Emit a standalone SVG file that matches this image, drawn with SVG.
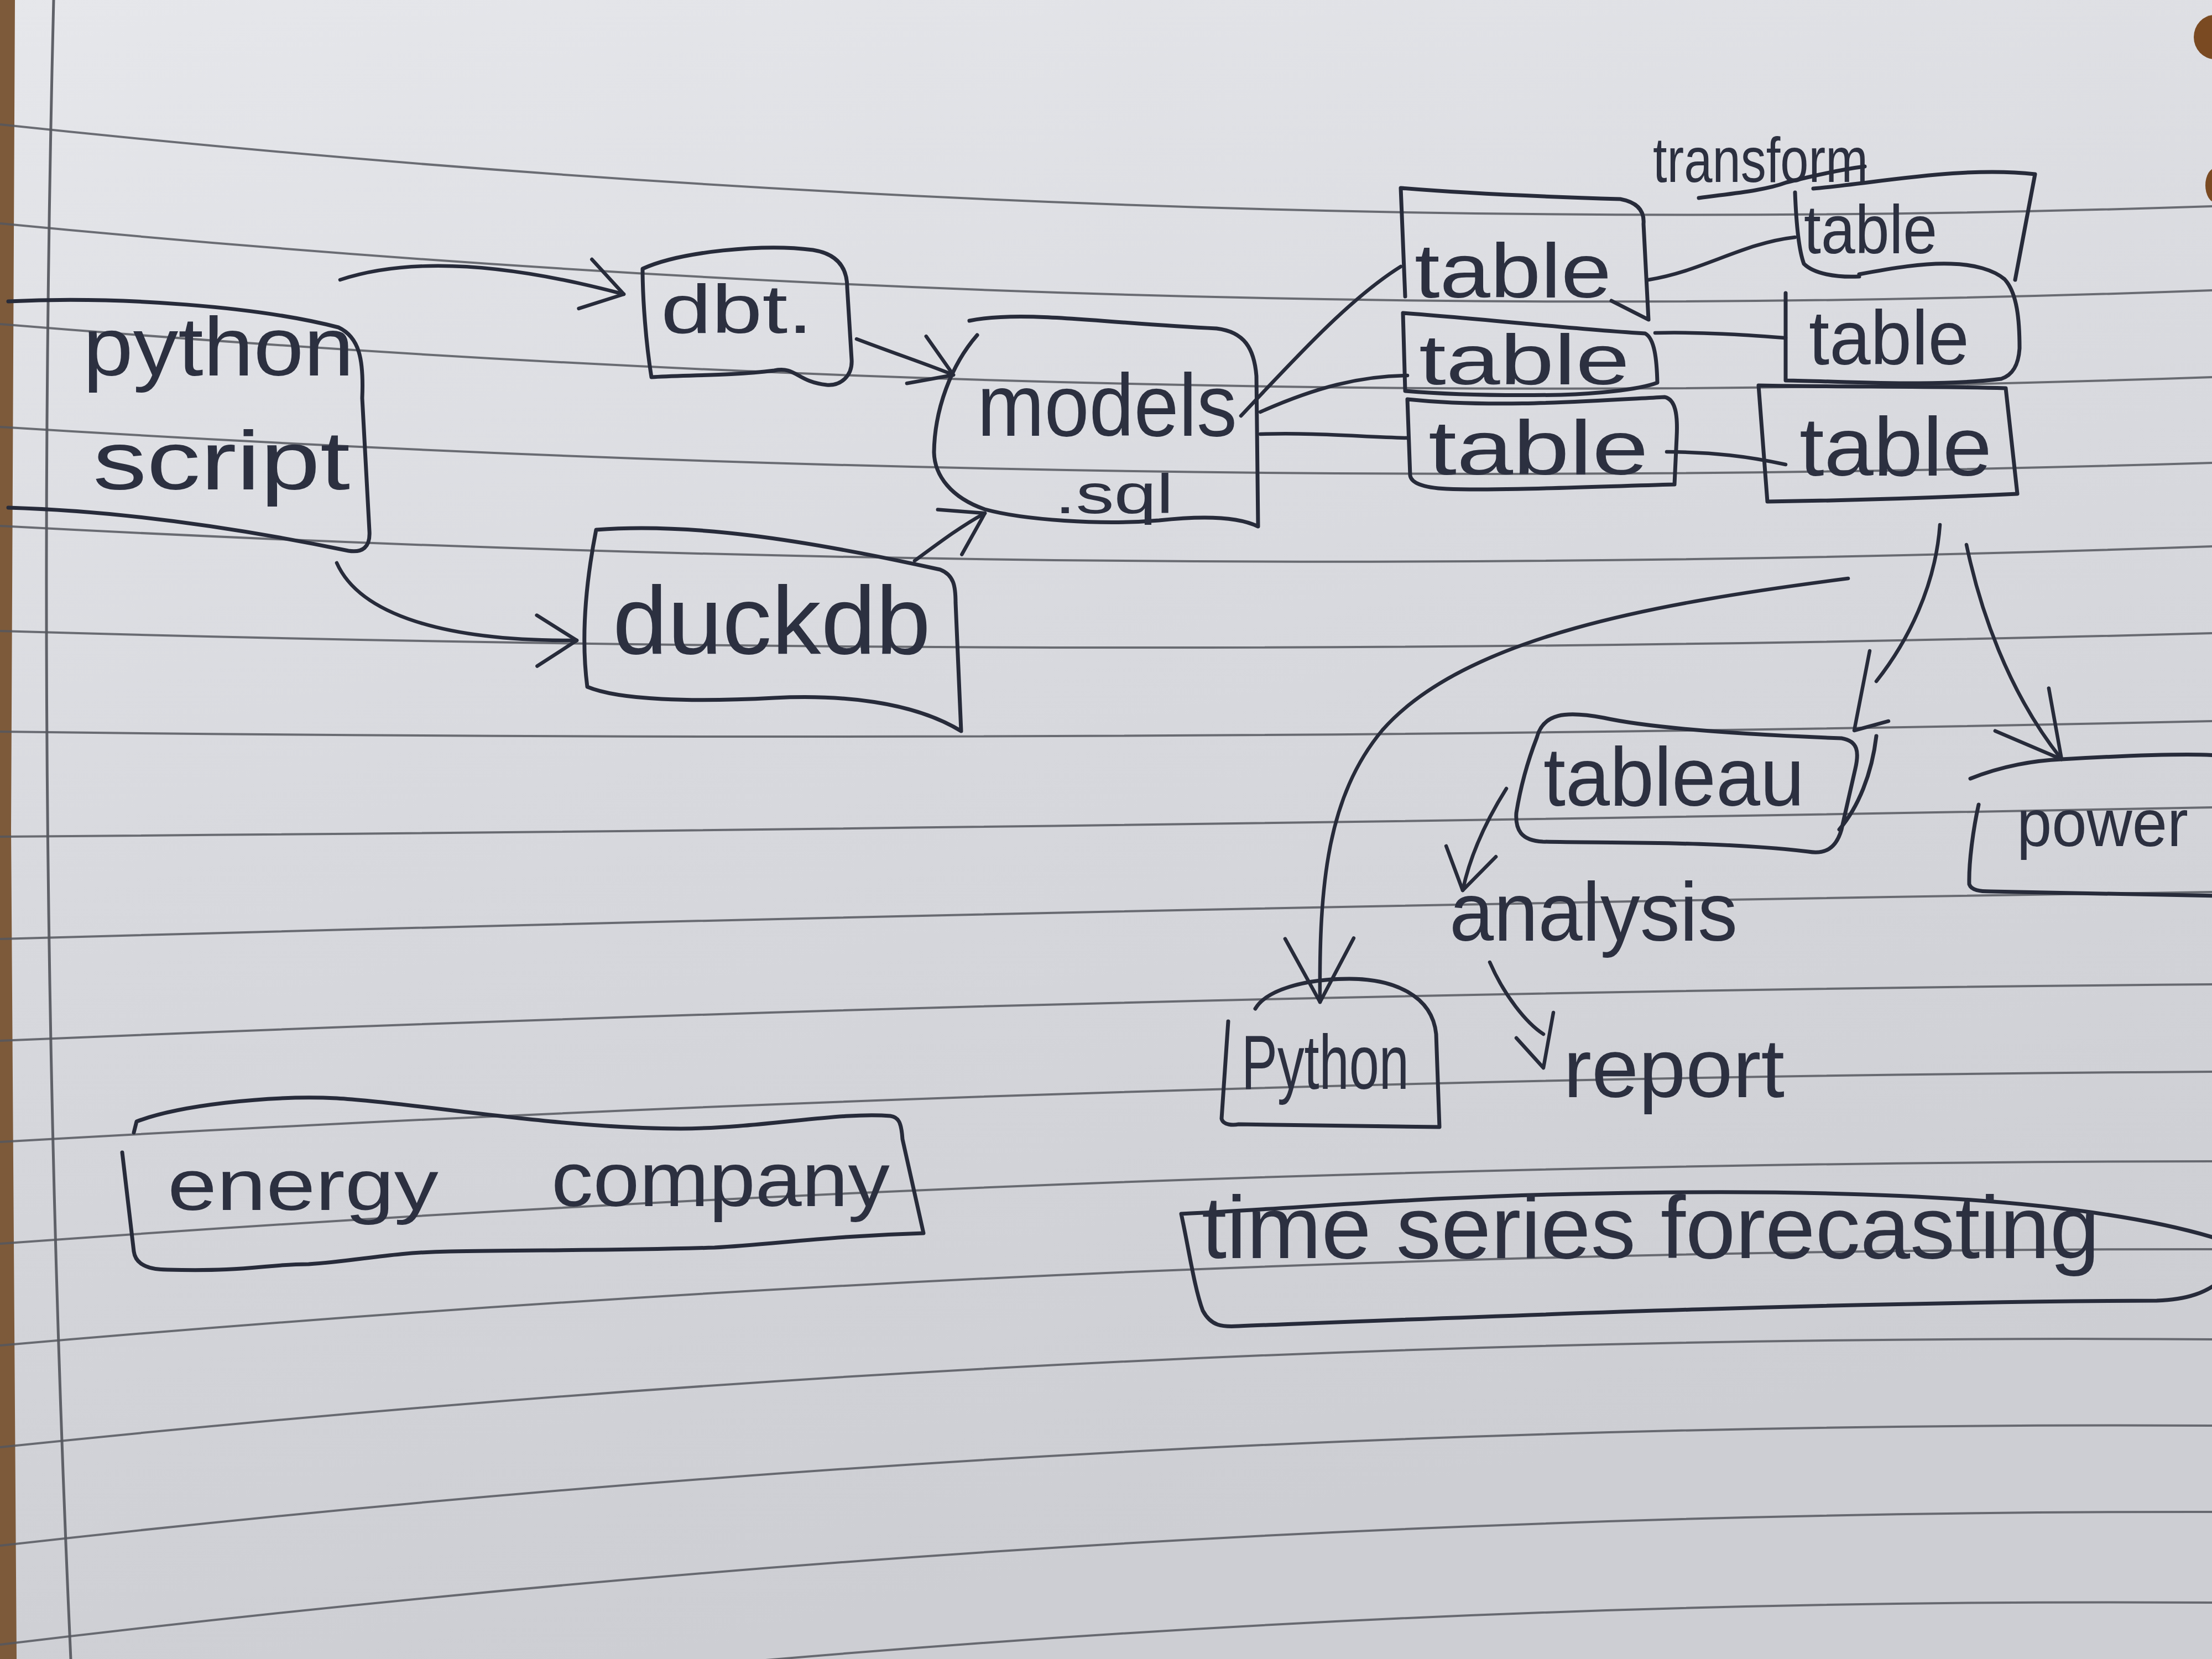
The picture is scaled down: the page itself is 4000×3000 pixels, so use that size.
<svg xmlns="http://www.w3.org/2000/svg" width="4000" height="3000" viewBox="0 0 4000 3000">
  <defs>
    <linearGradient id="paper" x1="0" y1="0" x2="0.3" y2="1">
      <stop offset="0" stop-color="#e6e7eb"/>
      <stop offset="0.5" stop-color="#d8d9de"/>
      <stop offset="1" stop-color="#cdced3"/>
    </linearGradient>
    <marker id="arrow" markerUnits="userSpaceOnUse" markerWidth="200" markerHeight="200" viewBox="-100 -100 200 200" refX="0" refY="0" orient="auto">
      <path class="ah" d="M -72 -46 L 0 0 L -72 46"/>
    </marker>
    <marker id="arrow-lg" markerUnits="userSpaceOnUse" markerWidth="300" markerHeight="300" viewBox="-150 -150 300 300" refX="0" refY="0" orient="auto">
      <path class="ah" d="M -115 -62 L 0 0 L -115 62"/>
    </marker>
    <style>
      .rule { fill: none; stroke: #55575e; stroke-width: 4; opacity: 0.85; }
      .margin { fill: none; stroke: #5f6168; stroke-width: 5; }
      .box { fill: none; stroke: #272b3a; stroke-width: 7; stroke-linecap: round; stroke-linejoin: round; }
      .edge { fill: none; stroke: #272b3a; stroke-width: 6.5; stroke-linecap: round; stroke-linejoin: round; }
      .ah { fill: none; stroke: #272b3a; stroke-width: 6.5; stroke-linecap: round; stroke-linejoin: round; }
      .lbl { font-family: "Liberation Sans", "DejaVu Sans", sans-serif; fill: #2c3040; }
    </style>
  </defs>

  <g id="background">
    <rect x="0" y="0" width="4000" height="3000" fill="url(#paper)"/>
    <path d="M0 0 L27 0 L20 1500 L30 3000 L0 3000 Z" fill="#7d5a3a"/>
    <ellipse cx="4005" cy="67" rx="38" ry="40" fill="#7a4a22"/>
    <ellipse cx="4008" cy="335" rx="20" ry="32" fill="#7a4a22"/>
    <path class="margin" d="M97 0 Q 60 1500 128 3000"/>
    <path class="rule" d="M0 225 Q 2000 439 4000 373"/>
    <path class="rule" d="M0 404 Q 2000 599 4000 525"/>
    <path class="rule" d="M0 586 Q 2000 752 4000 682"/>
    <path class="rule" d="M0 772 Q 2000 898 4000 837"/>
    <path class="rule" d="M0 951 Q 2000 1058 4000 988"/>
    <path class="rule" d="M0 1141 Q 2000 1199 4000 1145"/>
    <path class="rule" d="M0 1323 Q 2000 1348 4000 1304"/>
    <path class="rule" d="M0 1513 Q 2000 1498 4000 1460"/>
    <path class="rule" d="M0 1698 Q 2000 1642 4000 1613"/>
    <path class="rule" d="M0 1882 Q 2000 1797 4000 1780"/>
    <path class="rule" d="M0 2065 Q 2000 1950 4000 1938"/>
    <path class="rule" d="M0 2249 Q 2000 2103 4000 2100"/>
    <path class="rule" d="M0 2433 Q 2000 2258 4000 2259"/>
    <path class="rule" d="M0 2617 Q 2000 2408 4000 2422"/>
    <path class="rule" d="M0 2795 Q 2000 2568 4000 2578"/>
    <path class="rule" d="M0 2974 Q 2000 2732 4000 2734"/>
    <path class="rule" d="M0 3155 Q 2000 2885 4000 2898"/>
  </g>

  <g id="connectors">
    <path class="edge" d="M615 506 C 700 478, 850 458, 1128 532" marker-end="url(#arrow)"/>
    <path class="edge" d="M609 1018 C 650 1110, 800 1160, 1043 1158" marker-end="url(#arrow)"/>
    <path class="edge" d="M1549 613 C 1620 640, 1680 660, 1724 678" marker-end="url(#arrow)"/>
    <path class="edge" d="M1654 1014 C 1700 980, 1740 950, 1781 928" marker-end="url(#arrow)"/>
    <path class="edge" d="M2244 752 C 2340 650, 2440 540, 2533 482"/>
    <path class="edge" d="M2279 745 C 2380 700, 2460 680, 2545 679"/>
    <path class="edge" d="M2279 785 C 2380 782, 2460 790, 2545 792"/>
    <path class="edge" d="M2981 506 C 3080 490, 3150 440, 3246 429"/>
    <path class="edge" d="M2993 602 C 3080 600, 3160 606, 3229 611"/>
    <path class="edge" d="M3014 817 C 3100 818, 3160 825, 3229 840"/>
    <path class="edge" d="M3508 949 C 3500 1060, 3450 1160, 3393 1232"/>
    <path class="ah" d="M3381 1177 L 3353 1321 L 3415 1304"/>
    <path class="edge" d="M3556 985 C 3580 1100, 3630 1250, 3728 1373" marker-end="url(#arrow-lg)"/>
    <path class="edge" d="M3342 1046 C 3000 1090, 2650 1150, 2500 1320 C 2400 1440, 2385 1600, 2387 1812" marker-end="url(#arrow-lg)"/>
    <path class="edge" d="M2724 1426 C 2690 1480, 2660 1540, 2645 1610" marker-end="url(#arrow)"/>
    <path class="edge" d="M2694 1740 C 2720 1800, 2760 1850, 2791 1870"/>
    <path class="ah" d="M2742 1877 L 2791 1931 L 2809 1831"/>
  </g>

  <g id="python-script">
    <path class="box" d="M15 545 C 220 535, 470 555, 612 592 C 650 610, 658 650, 655 720 L 668 960 C 670 990, 655 1000, 630 996 C 480 965, 250 925, 15 918"/>
    <text class="lbl" x="150" y="679" font-size="150" textLength="490" lengthAdjust="spacingAndGlyphs">python</text>
    <text class="lbl" x="168" y="885" font-size="150" textLength="465" lengthAdjust="spacingAndGlyphs">script</text>
  </g>

  <g id="dbt">
    <path class="box" d="M1162 486 C 1230 455, 1380 440, 1470 452 C 1520 460, 1532 490, 1532 520 L 1540 650 C 1542 680, 1520 698, 1495 696 C 1440 690, 1440 662, 1400 670 C 1320 680, 1230 678, 1178 682 C 1168 620, 1162 540, 1162 486 Z"/>
    <text class="lbl" x="1195" y="602" font-size="125" textLength="275" lengthAdjust="spacingAndGlyphs">dbt.</text>
  </g>

  <g id="duckdb">
    <path class="box" d="M1078 958 C 1250 945, 1450 975, 1700 1030 C 1725 1040, 1728 1060, 1728 1090 L 1738 1322 C 1650 1268, 1520 1256, 1400 1262 C 1250 1270, 1120 1266, 1062 1242 C 1050 1150, 1060 1050, 1078 958 Z"/>
    <text class="lbl" x="1108" y="1182" font-size="175" textLength="575" lengthAdjust="spacingAndGlyphs">duckdb</text>
  </g>

  <g id="models-sql">
    <path class="box" d="M1753 580 C 1850 560, 2000 585, 2200 594 C 2250 600, 2268 630, 2272 680 L 2275 952 C 2230 930, 2150 935, 2096 941 C 1990 950, 1850 940, 1781 921 C 1720 900, 1690 860, 1689 818 C 1690 740, 1720 660, 1767 606"/>
    <text class="lbl" x="1767" y="788" font-size="160" textLength="470" lengthAdjust="spacingAndGlyphs">models</text>
    <text class="lbl" x="1907" y="928" font-size="100" textLength="215" lengthAdjust="spacingAndGlyphs">.sql</text>
  </g>

  <g id="table-1">
    <path class="box" d="M2541 536 L 2533 340 C 2650 350, 2800 356, 2930 360 C 2962 366, 2974 382, 2972 405 L 2981 578 L 2914 544"/>
    <text class="lbl" x="2558" y="538" font-size="140" textLength="356" lengthAdjust="spacingAndGlyphs">table</text>
  </g>
  <g id="table-2">
    <path class="box" d="M2537 566 C 2700 578, 2850 596, 2975 603 C 2992 612, 2996 650, 2997 692 C 2960 706, 2880 712, 2823 714 C 2700 716, 2600 712, 2541 707 Z"/>
    <text class="lbl" x="2566" y="695" font-size="128" textLength="381" lengthAdjust="spacingAndGlyphs">table</text>
  </g>
  <g id="table-3">
    <path class="box" d="M2545 722 C 2700 738, 2860 726, 3010 718 C 3030 722, 3034 750, 3032 790 L 3028 876 C 2880 880, 2700 888, 2616 884 C 2570 882, 2552 872, 2550 860 Z"/>
    <text class="lbl" x="2583" y="858" font-size="140" textLength="398" lengthAdjust="spacingAndGlyphs">table</text>
  </g>

  <g id="transform">
    <text class="lbl" x="2989" y="329" font-size="115" textLength="389" lengthAdjust="spacingAndGlyphs">transform</text>
    <path class="box" d="M3072 358 C 3130 350, 3190 345, 3230 330 C 3290 315, 3340 305, 3372 301"/>
  </g>

  <g id="table-4">
    <path class="box" d="M3279 341 C 3400 330, 3550 300, 3680 315 L 3644 506 M3246 348 C 3248 400, 3252 450, 3262 477 C 3280 495, 3320 502, 3362 500"/>
    <text class="lbl" x="3262" y="458" font-size="125" textLength="241" lengthAdjust="spacingAndGlyphs">table</text>
  </g>
  <g id="table-5">
    <path class="box" d="M3362 496 C 3420 485, 3480 475, 3528 477 C 3570 478, 3605 488, 3625 505 C 3648 530, 3652 580, 3652 630 C 3650 660, 3640 678, 3619 685 C 3500 700, 3350 690, 3229 688 L 3229 530"/>
    <text class="lbl" x="3271" y="659" font-size="140" textLength="290" lengthAdjust="spacingAndGlyphs">table</text>
  </g>
  <g id="table-6">
    <path class="box" d="M3180 697 C 3330 700, 3480 698, 3627 702 L 3648 893 C 3500 900, 3350 905, 3196 907 L 3180 697 Z"/>
    <text class="lbl" x="3254" y="860" font-size="150" textLength="348" lengthAdjust="spacingAndGlyphs">table</text>
  </g>

  <g id="tableau">
    <path class="box" d="M2779 1334 C 2790 1290, 2830 1285, 2900 1298 C 3000 1320, 3200 1330, 3330 1335 C 3360 1340, 3362 1360, 3355 1390 L 3330 1500 C 3320 1535, 3300 1545, 3270 1540 C 3100 1520, 2900 1525, 2790 1522 C 2750 1520, 2740 1500, 2742 1470 C 2750 1420, 2765 1370, 2779 1334 Z M3393 1331 C 3385 1400, 3360 1460, 3326 1500"/>
    <text class="lbl" x="2791" y="1457" font-size="150" textLength="472" lengthAdjust="spacingAndGlyphs">tableau</text>
  </g>

  <g id="power">
    <path class="box" d="M3563 1408 C 3620 1385, 3680 1375, 3728 1373 C 3850 1366, 3950 1362, 4010 1366 M3578 1455 C 3568 1500, 3560 1560, 3561 1599 C 3565 1610, 3580 1612, 3600 1612 L 4010 1620"/>
    <text class="lbl" x="3647" y="1530" font-size="120" textLength="310" lengthAdjust="spacingAndGlyphs">power</text>
  </g>

  <g id="analysis">
    <text class="lbl" x="2621" y="1701" font-size="150" textLength="521" lengthAdjust="spacingAndGlyphs">analysis</text>
  </g>

  <g id="report">
    <text class="lbl" x="2827" y="1984" font-size="150" textLength="400" lengthAdjust="spacingAndGlyphs">report</text>
  </g>

  <g id="python">
    <path class="box" d="M2221 1847 L 2209 2023 C 2212 2035, 2230 2035, 2240 2033 L 2603 2038 L 2597 1870 C 2590 1800, 2520 1770, 2440 1770 C 2360 1770, 2290 1790, 2270 1824"/>
    <text class="lbl" x="2245" y="1969" font-size="140" textLength="303" lengthAdjust="spacingAndGlyphs">Python</text>
  </g>

  <g id="time-series-forecasting">
    <path class="box" d="M4010 2240 C 3750 2160, 3300 2150, 2900 2158 C 2600 2162, 2350 2185, 2136 2195 C 2150 2260, 2160 2330, 2175 2370 C 2190 2398, 2210 2400, 2240 2398 C 2700 2380, 3300 2355, 3900 2352 C 3960 2350, 3990 2335, 4010 2320"/>
    <text class="lbl" x="2173" y="2275" font-size="160" textLength="1624" lengthAdjust="spacingAndGlyphs">time series forecasting</text>
  </g>

  <g id="energy-company">
    <path class="box" d="M221 2084 L 242 2263 C 245 2285, 265 2296, 303 2296 C 450 2300, 480 2286, 558 2286 C 650 2280, 700 2265, 813 2263 C 950 2260, 1100 2262, 1292 2256 C 1400 2250, 1500 2235, 1670 2230 L 1632 2060 C 1630 2030, 1625 2020, 1610 2018 C 1520 2010, 1380 2040, 1231 2041 C 1000 2040, 760 1995, 609 1986 C 480 1980, 320 2000, 247 2028 L 242 2048"/>
    <text class="lbl" x="303" y="2188" font-size="130" textLength="490" lengthAdjust="spacingAndGlyphs">energy</text>
    <text class="lbl" x="997" y="2181" font-size="140" textLength="612" lengthAdjust="spacingAndGlyphs">company</text>
  </g>
</svg>
